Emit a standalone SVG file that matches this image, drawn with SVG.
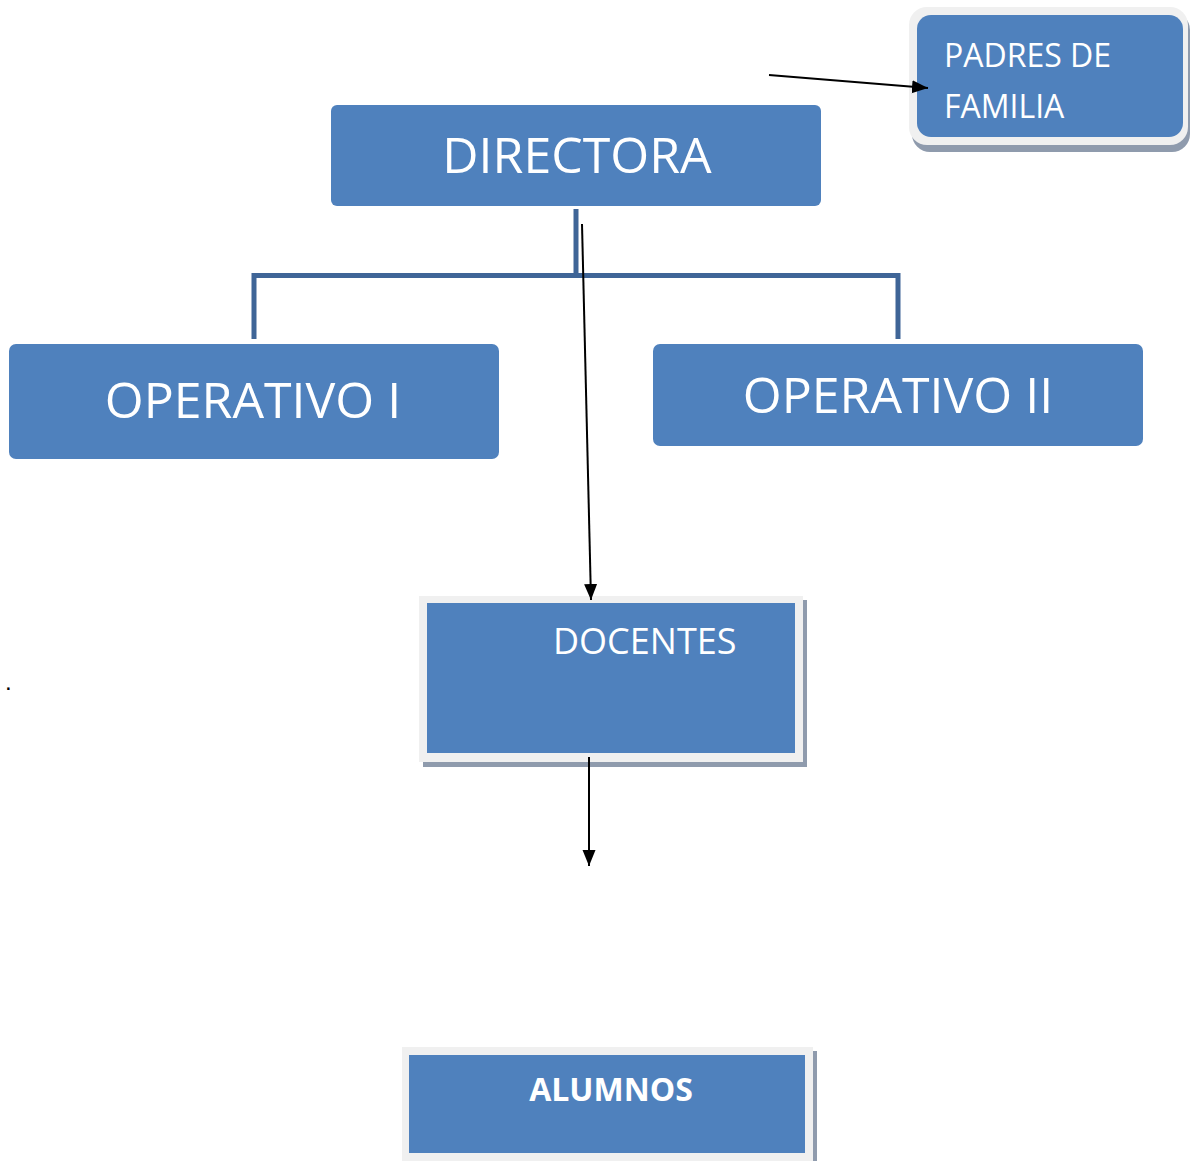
<svg xmlns="http://www.w3.org/2000/svg" width="1190" height="1161" viewBox="0 0 1190 1161">
<defs>
<style>
.box{fill:#4f81bd;}
.frame{fill:#f0f0f0;}
.shadow{fill:#8f9bad;}
.t{font-family:"Open Sans","Liberation Sans",sans-serif;fill:#ffffff;}
.tree{fill:none;stroke:#3f6597;stroke-width:5;}
.arr{fill:none;stroke:#000000;stroke-width:2;marker-end:url(#ah);}
</style>
<marker id="ah" markerUnits="userSpaceOnUse" markerWidth="18" markerHeight="14" refX="16" refY="6.5" orient="auto">
<path d="M0,0 L16,6.5 L0,13 Z" fill="#000000"/>
</marker>
</defs>
<rect width="1190" height="1161" fill="#ffffff"/>
<g id="padres">
<rect class="shadow" x="912" y="12" width="278" height="140" rx="18"/>
<rect class="frame" x="909" y="7" width="279" height="138" rx="18"/>
<rect class="box" x="917" y="15" width="266" height="122" rx="14"/>
<text class="t" x="944" y="67" font-size="32">PADRES DE</text>
<text class="t" x="944" y="118" font-size="32">FAMILIA</text>
</g>
<g id="directora">
<rect class="box" x="331" y="105" width="490" height="101" rx="6"/>
<text class="t" x="577" y="173" font-size="50" text-anchor="middle">DIRECTORA</text>
</g>
<g id="operativo1">
<rect class="box" x="9" y="344" width="490" height="115" rx="7"/>
<text class="t" x="253" y="418" font-size="50" text-anchor="middle">OPERATIVO I</text>
</g>
<g id="operativo2">
<rect class="box" x="653" y="344" width="490" height="102" rx="7"/>
<text class="t" x="898" y="413" font-size="50" text-anchor="middle">OPERATIVO II</text>
</g>
<g id="docentes">
<rect class="shadow" x="423" y="600" width="384" height="167"/>
<rect class="frame" x="419" y="596" width="384" height="166"/>
<rect class="box" x="427" y="603" width="368" height="150"/>
<text class="t" x="553" y="654" font-size="36">DOCENTES</text>
</g>
<g id="alumnos">
<rect class="shadow" x="406" y="1051" width="411" height="110"/>
<rect class="frame" x="402" y="1047" width="411" height="114"/>
<rect class="box" x="409" y="1055" width="396" height="98"/>
<text class="t" x="611" y="1101" font-size="32" font-weight="bold" text-anchor="middle">ALUMNOS</text>
</g>
<g id="connectors">
<path class="tree" d="M576,209 V275.5"/>
<path class="tree" d="M254,339 V275.5 H898 V339"/>
<line class="arr" x1="769" y1="75" x2="928" y2="88"/>
<line class="arr" x1="582" y1="224" x2="591" y2="600"/>
<line class="arr" x1="589" y1="757" x2="589" y2="866"/>
</g>
<text x="5" y="690" font-family="Liberation Sans, sans-serif" font-size="24" fill="#000000">.</text>
</svg>
